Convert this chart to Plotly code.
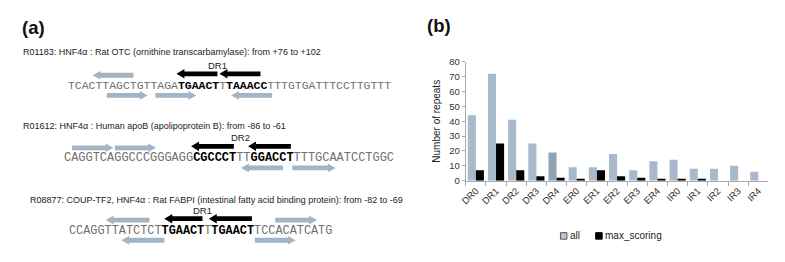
import plotly.graph_objects as go

W, H = 785, 262

# ---------------- panel (b) data ----------------
categories = ["DR0", "DR1", "DR2", "DR3", "DR4", "ER0", "ER1", "ER2", "ER3", "ER4",
              "IR0", "IR1", "IR2", "IR3", "IR4"]
all_counts = [44, 72, 41, 25, 19, 9, 9, 18, 7, 13, 14, 8, 8, 10, 6]
max_counts = [7, 25, 7, 3, 2, 1, 7, 3, 2, 1, 1, 1, 0, 0, 0]
y_ticks = [0, 10, 20, 30, 40, 50, 60, 70, 80]
series_names = ["all", "max_scoring"]

# ---------------- panel (a) data ----------------
headers = [
    "R01183: HNF4\u03b1 : Rat OTC (ornithine transcarbamylase): from +76 to +102",
    "R01612: HNF4\u03b1 : Human apoB (apolipoprotein B): from -86 to -61",
    "R08877: COUP-TF2, HNF4\u03b1 : Rat FABPI (intestinal fatty acid binding protein): from -82 to -69",
]
sequences = [
    "TCACTTAGCTGTTAGATGAACTTTAAACCTTTGTGATTTCCTTGTTT",
    "CAGGTCAGGCCCGGGAGGCGCCCTTTGGACCTTTTGCAATCCTGGC",
    "CCAGGTTATCTCTTGAACTTTGAACTTCCACATCATG",
]
# bold half-sites (start, end) as nucleotide indices
sites = [
    [(16, 22), (23, 29)],
    [(18, 24), (26, 32)],
    [(13, 19), (20, 26)],
]
repeat_labels = ["DR1", "DR2", "DR1"]
repeat_label_pos = [22, 25, 19]
# arrows: (lane, direction, start index, end index)
arrows = [
    [("top", "left", 3.7, 9.7), ("black", "left", 16.0, 22.0), ("black", "left", 22.3, 28.3),
     ("bottom", "right", 5.8, 11.8), ("bottom", "right", 12.9, 18.9), ("bottom", "left", 24.0, 30.0)],
    [("top", "right", 1.3, 7.1), ("top", "right", 7.3, 13.1), ("black", "left", 18.0, 24.0),
     ("black", "left", 26.0, 32.0), ("bottom", "left", 25.0, 30.9), ("bottom", "right", 32.2, 38.3)],
    [("top", "left", 5.3, 11.5), ("black", "left", 13.6, 19.0), ("black", "left", 19.9, 26.0),
     ("top", "right", 29.3, 35.2), ("bottom", "left", 7.5, 13.6), ("bottom", "right", 26.4, 32.2)],
]

# ---------------- layout / style constants (pixels) ----------------
header_x = [16, 16, 23]
header_y = [48, 125, 203]
seq_x = [61.7, 57.3, 62.7]
seq_y = [83.3, 159.0, 234.5]
char_w = [6.88, 7.18, 7.12]
lane_dy = {"top": -11.0, "black": -12.5, "bottom": 10.0}
label_dy = -21.5
GRAY_ARROW = "#a3b4c4"
SEQ_GRAY = "#707070"
ALL_COLOR = "#a7b9ca"
SANS = "Arial, Liberation Sans, Helvetica, sans-serif"
MONO = "Courier New, Liberation Mono, monospace"

fig = go.Figure()


def arrow_poly(x0, x1, yc, direction, shaft, head, head_len):
    s, h = shaft / 2.0, head / 2.0
    if direction == "left":
        xs = [x1, x0 + head_len, x0 + head_len, x0, x0 + head_len, x0 + head_len, x1, x1]
    else:
        xs = [x0, x1 - head_len, x1 - head_len, x1, x1 - head_len, x1 - head_len, x0, x0]
    ys = [yc - s, yc - s, yc - h, yc, yc + h, yc + s, yc + s, yc - s]
    return xs, ys


annotations = []

for r in range(3):
    cw = char_w[r]
    annotations.append(dict(x=header_x[r], y=header_y[r], xref="x2", yref="y2", text=headers[r],
                            showarrow=False, xanchor="left", yanchor="middle", borderpad=0,
                            font=dict(family=SANS, size=9.0, color="#222222")))
    seq = sequences[r]
    parts, pos = [], 0
    for a, b in sites[r]:
        if a > pos:
            parts.append("<span style='color:%s'>%s</span>" % (SEQ_GRAY, seq[pos:a]))
        parts.append("<b>%s</b>" % seq[a:b])
        pos = b
    if pos < len(seq):
        parts.append("<span style='color:%s'>%s</span>" % (SEQ_GRAY, seq[pos:]))
    annotations.append(dict(x=seq_x[r], y=seq_y[r], xref="x2", yref="y2", text="".join(parts),
                            showarrow=False, xanchor="left", yanchor="middle", borderpad=0,
                            font=dict(family=MONO, size=cw / 0.6, color="#000000")))
    annotations.append(dict(x=seq_x[r] + repeat_label_pos[r] * cw, y=seq_y[r] + label_dy,
                            xref="x2", yref="y2", text=repeat_labels[r], showarrow=False,
                            xanchor="center", yanchor="middle",
                            font=dict(family=SANS, size=9.5, color="#222222")))
    for lane, direction, a, b in arrows[r]:
        x0 = seq_x[r] + a * cw
        x1 = seq_x[r] + b * cw
        yc = seq_y[r] + lane_dy[lane]
        if lane == "black":
            xs, ys = arrow_poly(x0, x1, yc, direction, 5.0, 10.0, 8.0)
            col = "#000000"
        else:
            xs, ys = arrow_poly(x0, x1, yc, direction, 5.0, 9.0, 8.0)
            col = GRAY_ARROW
        fig.add_trace(go.Scatter(x=xs, y=ys, xaxis="x2", yaxis="y2", mode="lines",
                                 fill="toself", fillcolor=col, line=dict(width=0, color=col),
                                 showlegend=False, hoverinfo="skip"))

# panel labels
annotations.append(dict(x=14, y=22, xref="x2", yref="y2", text="<b>(a)</b>", showarrow=False,
                        xanchor="left", yanchor="middle", font=dict(family=SANS, size=18.5, color="#111")))
annotations.append(dict(x=422, y=20, xref="x2", yref="y2", text="<b>(b)</b>", showarrow=False,
                        xanchor="left", yanchor="middle", font=dict(family=SANS, size=18.5, color="#111")))

# ---------------- panel (b) bars ----------------
all_colors = ["#8fa3b5" if c == "DR4" else ALL_COLOR for c in categories]
fig.add_trace(go.Bar(x=categories, y=all_counts, name=series_names[0],
                     marker=dict(color=all_colors, line=dict(width=0)),
                     showlegend=False, xaxis="x", yaxis="y"))
fig.add_trace(go.Bar(x=categories, y=max_counts, name=series_names[1],
                     marker=dict(color="#000000", line=dict(width=0)),
                     showlegend=False, xaxis="x", yaxis="y"))

# legend keys (compact, as in the original)
legend_y = 240
legend_key_x = [562, 597.5]
legend_fill = ["#b7c6d4", "#000000"]
legend_line = ["#555555", "#000000"]
for i, name in enumerate(series_names):
    fig.add_trace(go.Scatter(x=[legend_key_x[i]], y=[legend_y], xaxis="x2", yaxis="y2", mode="markers",
                             marker=dict(symbol="square", size=6.5, color=legend_fill[i],
                                         line=dict(color=legend_line[i], width=1)),
                             showlegend=False, hoverinfo="skip"))
    annotations.append(dict(x=legend_key_x[i] + 5, y=legend_y, xref="x2", yref="y2", text=name,
                            showarrow=False, xanchor="left", yanchor="middle", borderpad=0,
                            font=dict(family=SANS, size=10, color="#222222")))

x_left, x_right = 463.3, 768.3
y_bottom, y_top = 182.3, 58.3

fig.update_layout(
    width=W, height=H,
    margin=dict(l=0, r=0, t=0, b=0),
    paper_bgcolor="white", plot_bgcolor="rgba(0,0,0,0)",
    barmode="group", bargap=0.2, bargroupgap=0.0,
    showlegend=False,
    annotations=annotations,
    xaxis=dict(domain=[x_left / W, x_right / W], anchor="y",
               showline=True, linecolor="#aaaaaa", linewidth=1,
               ticks="outside", tickson="boundaries", ticklen=4, tickcolor="#aaaaaa",
               tickangle=-45, tickfont=dict(family=SANS, size=9.5, color="#333333"),
               showgrid=False, zeroline=False, fixedrange=True),
    yaxis=dict(domain=[1 - y_bottom / H, 1 - y_top / H], anchor="x", range=[0, 80],
               tickvals=y_ticks, showline=True, linecolor="#aaaaaa", linewidth=1,
               ticks="outside", ticklen=3, tickcolor="#aaaaaa",
               tickfont=dict(family=SANS, size=9.5, color="#333333"),
               title=dict(text="Number of repeats", font=dict(family=SANS, size=10, color="#222"), standoff=6),
               showgrid=False, zeroline=False, fixedrange=True),
    xaxis2=dict(domain=[0, 1], anchor="y2", range=[0, W], visible=False, fixedrange=True),
    yaxis2=dict(domain=[0, 1], anchor="x2", range=[H, 0], visible=False, fixedrange=True),
)

fig.write_html("out.html", config={"displayModeBar": False},
               post_script="document.body.style.margin='0';document.body.style.overflow='hidden';")
